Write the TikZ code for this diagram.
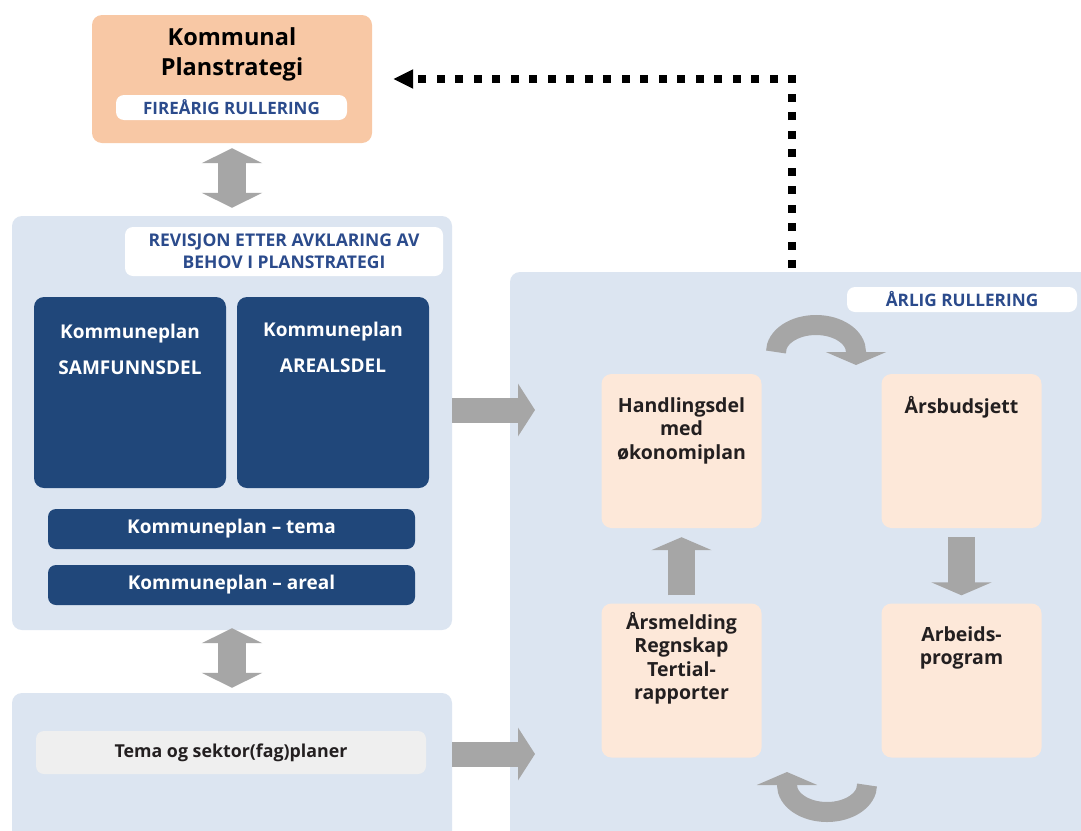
\documentclass[tikz,border=0pt]{standalone}
\usepackage{fontspec}
\setmainfont{Open Sans}
\usetikzlibrary{arrows.meta, positioning, calc}

\definecolor{strategibg}{HTML}{F8C8A5}
\definecolor{panelbg}{HTML}{DCE5F1}
\definecolor{planblue}{HTML}{20477A}
\definecolor{peach}{HTML}{FDE8D9}
\definecolor{arrowgray}{HTML}{A6A6A6}
\definecolor{pilltext}{HTML}{2B4B8C}
\definecolor{darktext}{HTML}{231F20}
\definecolor{pillgray}{HTML}{EFEFEF}

\newcommand\fs[2]{\fontsize{#1}{#2}\selectfont}

\tikzset{
  box/.style={rectangle, inner sep=0pt, rounded corners=10pt},
  panel/.style={box, fill=panelbg},
  planbox/.style={box, fill=planblue, text=white},
  peachbox/.style={box, fill=peach},
  pill/.style={box, rounded corners=8pt, fill=white, text=pilltext, align=center},
  blockarrow/.style={draw=arrowgray, line width=25pt,
    -{Triangle[width=52pt,length=17pt]}, arrowgray},
  twoway/.style={draw=arrowgray, line width=28pt,
    {Triangle[width=60pt,length=15pt]}-{Triangle[width=60pt,length=15pt]}, arrowgray},
  turnarrow/.style={draw=arrowgray, line width=20pt,
    -{Triangle[width=60pt,length=13pt]}, arrowgray},
  dotarrow/.style={draw=black, line width=8pt, dash pattern=on 8pt off 10.5pt,
    -{Triangle[width=18pt,length=20pt]}}
}

\begin{document}
\begin{tikzpicture}[x=1pt, y=-1pt, font=\bfseries]
\clip (0,0) rectangle (1081,830);
\fill[white] (0,0) rectangle (1081,830);

% kommunal planstrategi
\node[box, fill=strategibg, minimum width=280pt, minimum height=128pt] (strategi) at (232,79) {};
\node at (232,54) [align=center, font=\bfseries\fs{23.5}{30}] (strategitxt) {Kommunal\\Planstrategi};
\node[pill, minimum width=231pt, minimum height=25pt, font=\bfseries\fs{17}{18}] (firearig) at (231.5,107.5) {FIREÅRIG RULLERING};

% kommuneplan
\node[panel, minimum width=440pt, minimum height=414pt] (lpanel) at (232,423) {};
\node[pill, minimum width=318pt, minimum height=49pt, font=\bfseries\fs{17.5}{22}] (revisjon) at (284,251.5) {REVISJON ETTER AVKLARING AV\\BEHOV I PLANSTRATEGI};

\node[planbox, minimum width=192pt, minimum height=191pt] (samf) at (130,392.5) {};
\node[planbox, minimum width=192pt, minimum height=191pt] (areal) at (333,392.5) {};
\node at (130,349) [align=center, text=white, font=\bfseries\fs{19}{36}] (samftxt) {Kommuneplan\\SAMFUNNSDEL};
\node at (333,347) [align=center, text=white, font=\bfseries\fs{19}{36}] (arealtxt) {Kommuneplan\\AREALSDEL};

\node[planbox, rounded corners=8pt, minimum width=367pt, minimum height=40pt, font=\bfseries\fs{19}{20}] (tema) at (231.5,529) {Kommuneplan -- tema};
\node[planbox, rounded corners=8pt, minimum width=367pt, minimum height=40pt, font=\bfseries\fs{19}{20}] (arealbar) at (231.5,585) {Kommuneplan -- areal};

% tema og sektorplaner
\node[panel, minimum width=440pt, minimum height=157pt] (blpanel) at (232,771.5) {};
\node[pill, fill=pillgray, text=darktext, minimum width=390pt, minimum height=43pt, font=\bfseries\fs{17.8}{18}] (sektor) at (231,752.5) {Tema og sektor(fag)planer};

% aarlig rullering
\node[panel, minimum width=590pt, minimum height=578pt] (rpanel) at (805,561) {};
\node[pill, minimum width=230pt, minimum height=25pt, font=\bfseries\fs{17.2}{18}] (aarlig) at (962,299.5) {ÅRLIG RULLERING};

\node[peachbox, minimum width=160pt, minimum height=154pt] (handl) at (681.5,451) {};
\node[peachbox, minimum width=160pt, minimum height=154pt] (budsjett) at (961.5,451) {};
\node[peachbox, minimum width=160pt, minimum height=154pt] (melding) at (681.5,680.5) {};
\node[peachbox, minimum width=160pt, minimum height=154pt] (arbeid) at (961.5,680.5) {};

\node at (681.5,430.5) [align=center, text=darktext, font=\bfseries\fs{19.5}{23.5}] (handltxt) {Handlingsdel\\med\\økonomiplan};
\node at (961.5,407) [text=darktext, font=\bfseries\fs{19.5}{23.5}] (budsjetttxt) {Årsbudsjett};
\node at (681.5,658.5) [align=center, text=darktext, font=\bfseries\fs{19.5}{23.5}] (meldingtxt) {Årsmelding\\Regnskap\\Tertial-\\rapporter};
\node at (961.5,648) [align=center, text=darktext, font=\bfseries\fs{19.5}{23.5}] (arbeidtxt) {Arbeids-\\program};

% block arrows
\draw[twoway, shorten <=5pt, shorten >=8pt] (strategi.south) -- (lpanel.north);
\draw[twoway, shorten <=-2pt, shorten >=5pt] (lpanel.south) -- (blpanel.north);

\coordinate (inn1) at (535,410);
\coordinate (inn2) at (535,754);
\draw[blockarrow] (lpanel.east |- inn1) -- (inn1);
\draw[blockarrow] (blpanel.east |- inn2) -- (inn2);

\draw[blockarrow, line width=27pt, -{Triangle[width=60pt,length=13pt]}, shorten <=8pt, shorten >=9pt] (melding.north) -- (handl.south);
\draw[blockarrow, line width=27pt, -{Triangle[width=60pt,length=13pt]}, shorten <=9pt, shorten >=8pt] (budsjett.south) -- (arbeid.north);

% turning arrows
\coordinate (turntop) at (776,352);
\coordinate (turnbot) at (867,785);
\draw[turnarrow] (turntop) arc[start angle=180, end angle=360, x radius=40, y radius=27] -- ++(0,13);
\draw[turnarrow] (turnbot) arc[start angle=0, end angle=180, x radius=40, y radius=27] -- ++(0,-13);

% back to planstrategi
\coordinate (opp) at (792,268);
\draw[dotarrow, shorten >=21pt] (opp) |- (strategi.east);
\end{tikzpicture}
\end{document}
